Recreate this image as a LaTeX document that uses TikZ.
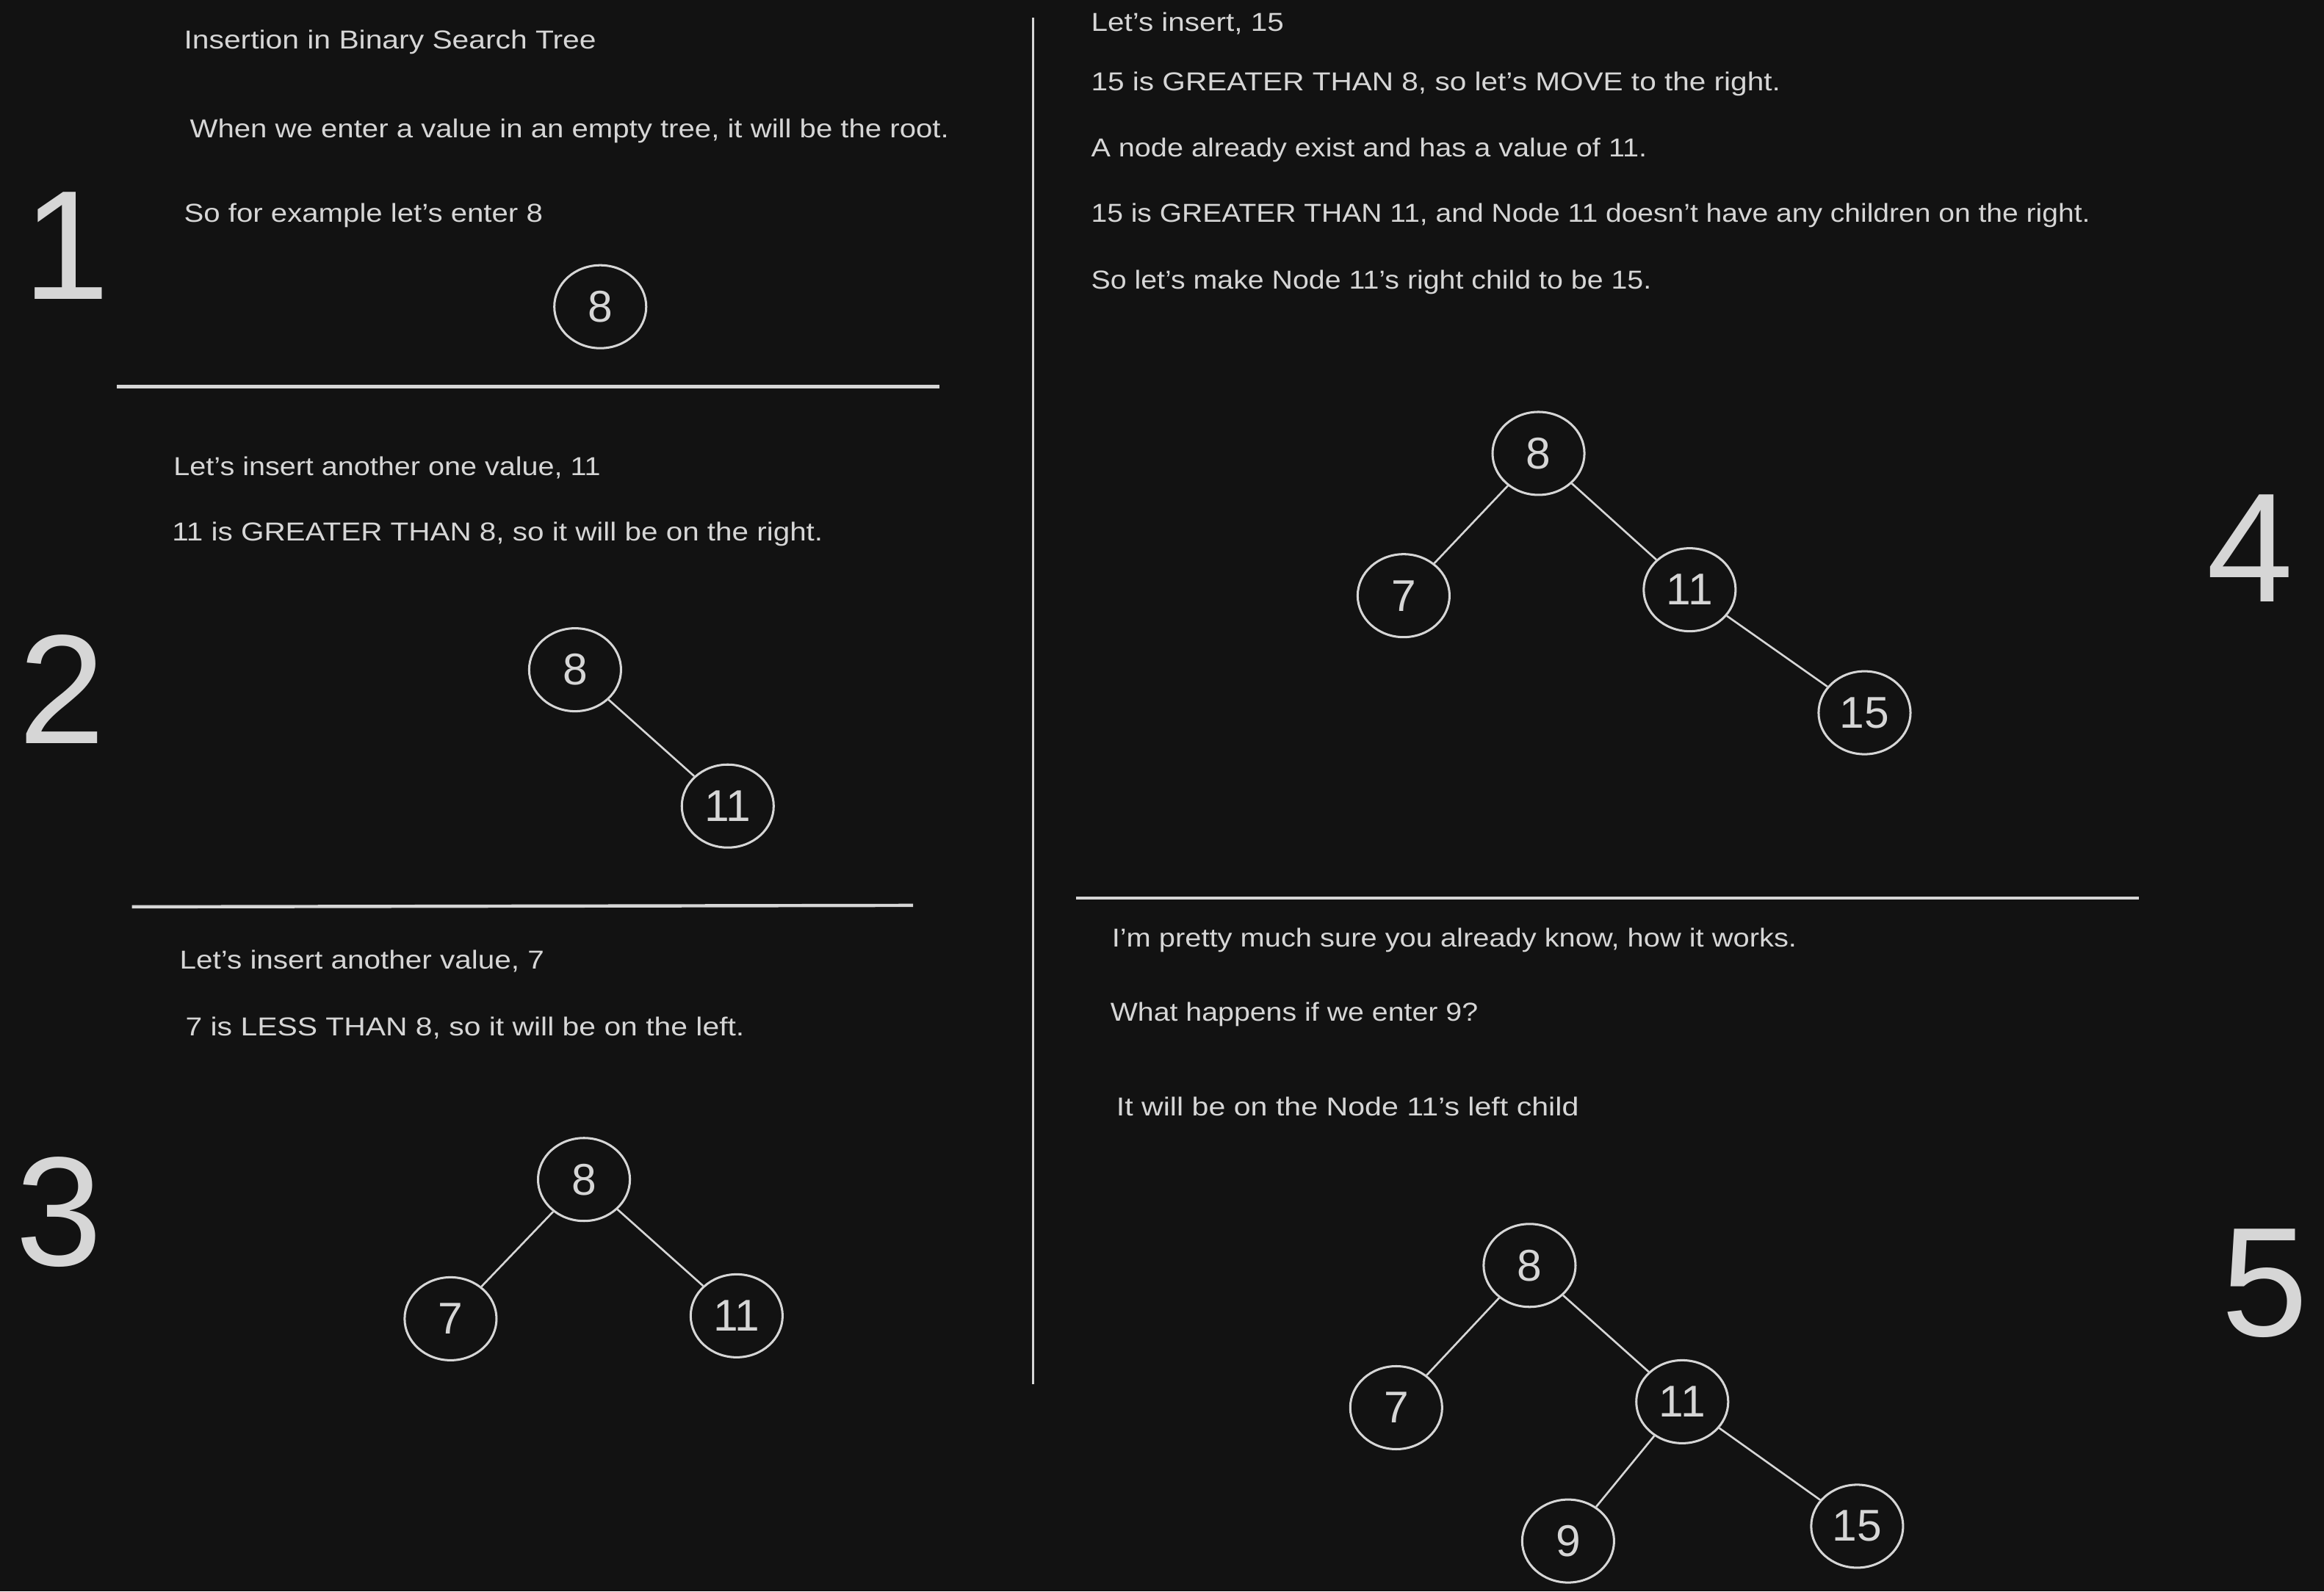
\documentclass[tikz,border=0pt]{standalone}
\usepackage{fontspec}
\setmainfont{Liberation Sans}
\usepackage{graphicx}
\usetikzlibrary{shapes.geometric}
\definecolor{bg}{HTML}{121212}
\definecolor{fg}{HTML}{D6D6D6}
\newcommand\fitw[2]{\resizebox{#1pt}{\height}{#2}}
\begin{document}
\begin{tikzpicture}[x=1pt,y=-1pt,
  txt/.style={anchor=base west,inner sep=0pt,text=fg,font=\fontsize{17.5}{21}\selectfont},
  bignum/.style={text=fg,inner sep=0pt,font=\fontsize{105}{110}\selectfont},
  bst/.style={ellipse,draw=fg,line width=1.5pt,minimum width=62pt,minimum height=56pt,inner sep=0pt,text=fg,font=\fontsize{30}{30}\selectfont},
  link/.style={draw=fg,line width=1.3pt},
  divider/.style={draw=fg,line width=2.2pt}]
\fill[bg] (0,0) rectangle (1568,1074);
\useasboundingbox (0,0) rectangle (1568,1074);

% big step numbers
\node[bignum] (n1) at (45,166) {1};
\node[bignum] (n2) at (42,465) {2};
\node[bignum] (n3) at (40,818) {3};
\node[bignum] (n4) at (1518,370) {4};
\node[bignum] (n5) at (1528,866) {5};

% panel 1
\node[txt] (t1) at (124,33) {\fitw{278}{Insertion in Binary Search Tree}};
\node[txt] (t2) at (128,93) {\fitw{512}{When we enter a value in an empty tree, it will be the root.}};
\node[txt] (t3) at (124,150) {\fitw{242}{So for example let's enter 8}};
\node[bst] (a8) at (405,207) {8};
\coordinate (d1a) at (79,261);
\coordinate (d1b) at (634,261);
\draw[divider] (d1a) -- (d1b);

% panel 2
\node[txt] (t4) at (117,321) {\fitw{288}{Let's insert another one value, 11}};
\node[txt] (t5) at (116,365) {\fitw{439}{11 is GREATER THAN 8, so it will be on the right.}};
\node[bst] (b8) at (388,452) {8};
\node[bst] (b11) at (491,544) {11};
\draw[link] (b8) -- (b11);
\coordinate (d2a) at (89,612);
\coordinate (d2b) at (616,611);
\draw[divider] (d2a) -- (d2b);

% panel 3
\node[txt] (t6) at (121,654) {\fitw{246}{Let's insert another value, 7}};
\node[txt] (t7) at (125,699) {\fitw{377}{7 is LESS THAN 8, so it will be on the left.}};
\node[bst] (c8) at (394,796) {8};
\node[bst] (c7) at (304,890) {7};
\node[bst] (c11) at (497,888) {11};
\draw[link] (c8) -- (c7);
\draw[link] (c8) -- (c11);

% vertical divider
\coordinate (va) at (697,12);
\coordinate (vb) at (697,934);
\draw[fg,line width=1.5pt] (va) -- (vb);

% panel 4
\node[txt] (t8) at (736,21) {\fitw{130}{Let's insert, 15}};
\node[txt] (t9) at (736,61) {\fitw{465}{15 is GREATER THAN 8, so let's MOVE to the right.}};
\node[txt] (t10) at (736,106) {\fitw{375}{A node already exist and has a value of 11.}};
\node[txt] (t11) at (736,150) {\fitw{674}{15 is GREATER THAN 11, and Node 11 doesn't have any children on the right.}};
\node[txt] (t12) at (736,195) {\fitw{378}{So let's make Node 11's right child to be 15.}};
\node[bst] (e8) at (1038,306) {8};
\node[bst] (e7) at (947,402) {7};
\node[bst] (e11) at (1140,398) {11};
\node[bst] (e15) at (1258,481) {15};
\draw[link] (e8) -- (e7);
\draw[link] (e8) -- (e11);
\draw[link] (e11) -- (e15);
\coordinate (d4a) at (726,606);
\coordinate (d4b) at (1443,606);
\draw[divider] (d4a) -- (d4b);

% panel 5
\node[txt] (t13) at (750,639) {\fitw{462}{I'm pretty much sure you already know, how it works.}};
\node[txt] (t14) at (749,689) {\fitw{248}{What happens if we enter 9?}};
\node[txt] (t15) at (753,753) {\fitw{312}{It will be on the Node 11's left child}};
\node[bst] (f8) at (1032,854) {8};
\node[bst] (f7) at (942,950) {7};
\node[bst] (f11) at (1135,946) {11};
\node[bst] (f9) at (1058,1040) {9};
\node[bst] (f15) at (1253,1030) {15};
\draw[link] (f8) -- (f7);
\draw[link] (f8) -- (f11);
\draw[link] (f11) -- (f9);
\draw[link] (f11) -- (f15);
\end{tikzpicture}
\end{document}
